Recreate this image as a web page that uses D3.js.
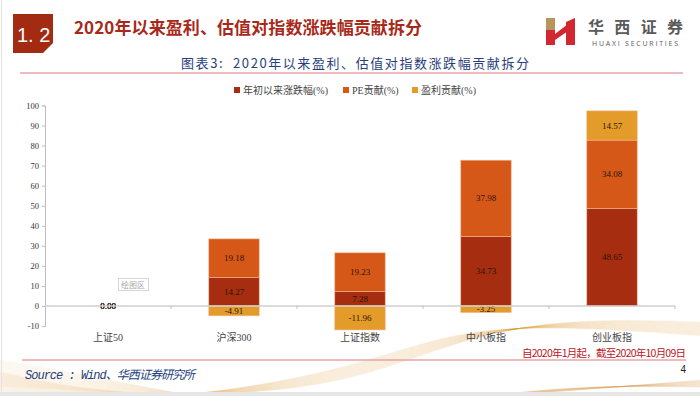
<!DOCTYPE html>
<html>
<head>
<meta charset="utf-8">
<script src="https://cdn.jsdelivr.net/npm/d3@7"></script>
<style>
  body { margin: 0; background: #fff; }
  svg { display: block; }
</style>
</head>
<body>
<script>
// data
var categories = ["上证50", "沪深300", "上证指数", "中小板指", "创业板指"];
var seriesNames = ["年初以来涨跌幅(%)", "PE贡献(%)", "盈利贡献(%)"];
var ytdChange = [0, 14.27, 7.28, 34.73, 48.65];
var peContrib = [0, 19.18, 19.23, 37.98, 34.08];
var epsContrib = [0, -4.91, -11.96, -3.25, 14.57];
var yTicks = [-10, 0, 10, 20, 30, 40, 50, 60, 70, 80, 90, 100];

var colors = ["#A62D10", "#D65818", "#E39B2A"];
var serif = "'Liberation Serif', 'Noto Sans CJK SC', serif";
var cjk = "'Noto Sans CJK SC', sans-serif";

var W = 700, H = 396;
var svg = d3.select("body").append("svg")
    .attr("width", W)
    .attr("height", H);

// ---- background decoration (gold waves at the bottom) ----
var deco = svg.append("g").attr("fill", "none").attr("stroke", "#D8933A");
var wave = d3.line().curve(d3.curveBasis);
for (var i = 0; i < 40; i++) {
  deco.append("path")
      .attr("d", wave([[0, 372 + i * 0.5], [120, 398 + i * 0.2], [330, 392 - i * 0.4], [450, 342 - i * 0.3], [560, 318 + i * 0.2], [700, 322 + i * 0.35]]))
      .attr("stroke-opacity", 0.1)
      .attr("stroke-width", 0.6);
}
for (var i = 0; i < 30; i++) {
  deco.append("path")
      .attr("d", wave([[0, 360 + i * 0.9], [90, 376 + i * 0.5], [200, 398], [260, 404]]))
      .attr("stroke-opacity", 0.1)
      .attr("stroke-width", 0.6);
}
for (var i = 0; i < 25; i++) {
  deco.append("path")
      .attr("d", wave([[470, 398], [580, 390 - i * 0.2], [700, 380 + i * 0.3]]))
      .attr("stroke-opacity", 0.12)
      .attr("stroke-width", 0.6);
}
svg.append("rect").attr("x", 0).attr("y", 392).attr("width", W).attr("height", 4).attr("fill", "#e6e6e6");
svg.append("line").attr("x1", 1.5).attr("x2", 1.5).attr("y1", 0).attr("y2", 392).attr("stroke", "#e2e2e2");

// ---- page header ----
svg.append("path")
    .attr("d", "M13,14H53V43L43,53H13Z")
    .attr("fill", "#A32B12");
svg.append("text")
    .attr("x", 17).attr("y", 42)
    .attr("font-family", "'Liberation Sans', Arial, sans-serif")
    .attr("font-size", 20)
    .attr("fill", "#fff")
    .text("1. 2");

svg.append("text")
    .attr("x", 74).attr("y", 34)
    .attr("font-family", cjk)
    .attr("font-weight", "bold")
    .attr("font-size", 17)
    .attr("fill", "#A8291A")
    .attr("textLength", 348)
    .text("2020年以来盈利、估值对指数涨跌幅贡献拆分");

// logo
var logo = svg.append("g");
logo.append("path").attr("d", "M546,18H555V30H546Z").attr("fill", "#B8955A");
logo.append("path").attr("d", "M546,30H555V45H546Z").attr("fill", "#D22630");
logo.append("path").attr("d", "M555,34L568,24V31L555,40Z").attr("fill", "#D22630");
logo.append("path").attr("d", "M566,22L575,18V45H566Z").attr("fill", "#D22630");
logo.append("text")
    .attr("x", 588).attr("y", 33)
    .attr("font-family", cjk)
    .attr("font-weight", "bold")
    .attr("font-size", 16)
    .attr("fill", "#5a5a5a")
    .attr("textLength", 95)
    .text("华西证券");
logo.append("text")
    .attr("x", 592).attr("y", 46)
    .attr("font-family", "'Open Sans', sans-serif")
    .attr("font-size", 7)
    .attr("fill", "#5a5a5a")
    .attr("textLength", 86)
    .text("HUAXI SECURITIES");

// chart title
svg.append("text")
    .attr("x", 181).attr("y", 68)
    .attr("font-family", cjk)
    .attr("font-size", 13)
    .attr("fill", "#2A3E7C")
    .attr("textLength", 348)
    .style("white-space", "pre")
    .text("图表3:  2020年以来盈利、估值对指数涨跌幅贡献拆分");
svg.append("line")
    .attr("x1", 20).attr("x2", 683)
    .attr("y1", 73).attr("y2", 73)
    .attr("stroke", "#E9A3A9").attr("stroke-width", 1.5);

// ---- chart ----
var xMap = d3.scaleBand().domain(categories).range([45, 675]).paddingInner(0.6).paddingOuter(0.3);
var yMap = d3.scaleLinear().domain([-10, 100]).range([326, 105.5]);

var rows = categories.map(function(c, i) {
  return { cat: c, s0: ytdChange[i], s1: peContrib[i], s2: epsContrib[i] };
});
var stack = d3.stack().keys(["s0", "s1", "s2"]).offset(d3.stackOffsetDiverging);
var layers = stack(rows);

// y axis
var yAxis = d3.axisLeft(yMap).tickValues(yTicks).tickSize(3).tickFormat(function(d) { return String(d); });
var yg = svg.append("g").attr("transform", "translate(45,0)").call(yAxis);
yg.select(".domain").attr("stroke", "#bdbdbd");
yg.selectAll(".tick line").attr("stroke", "#bdbdbd");
yg.selectAll(".tick text")
    .attr("font-family", serif)
    .attr("font-size", 8.5)
    .attr("fill", "#333")
    .attr("x", -6);

// bars
var layer = svg.selectAll(".layer")
    .data(layers)
  .enter().append("g")
    .attr("class", "layer")
    .attr("fill", function(d, i) { return colors[i]; });

layer.selectAll("rect")
    .data(function(d) { return d; })
  .enter().append("rect")
    .attr("x", function(d) { return xMap(d.data.cat); })
    .attr("width", xMap.bandwidth())
    .attr("y", function(d) { return yMap(Math.max(d[0], d[1])); })
    .attr("height", function(d) { return Math.abs(yMap(d[0]) - yMap(d[1])); })
    .attr("stroke", "#F2B48A")
    .attr("stroke-width", 0.6);

// zero line and category ticks
svg.append("line")
    .attr("x1", 45).attr("x2", 675)
    .attr("y1", yMap(0)).attr("y2", yMap(0))
    .attr("stroke", "#cfcfcf").attr("stroke-width", 1.5);
var gap = (xMap.step() - xMap.bandwidth()) / 2;
svg.selectAll(".ctick")
    .data(categories)
  .enter().append("line")
    .attr("class", "ctick")
    .attr("x1", function(d) { return xMap(d) + xMap.bandwidth() + gap; })
    .attr("x2", function(d) { return xMap(d) + xMap.bandwidth() + gap; })
    .attr("y1", yMap(0)).attr("y2", yMap(0) + 3)
    .attr("stroke", "#bdbdbd");

// value labels
layer.selectAll(".val")
    .data(function(d) { return d; })
  .enter().append("text")
    .attr("class", "val")
    .attr("x", function(d) { return xMap(d.data.cat) + xMap.bandwidth() / 2; })
    .attr("y", function(d) { return yMap((d[0] + d[1]) / 2); })
    .attr("dy", "0.35em")
    .attr("text-anchor", "middle")
    .attr("font-family", serif)
    .attr("font-size", 9)
    .attr("fill", "#2a1408")
    .text(function(d) { return d.data[this.parentNode.__data__.key].toFixed(2); });

// category labels
svg.selectAll(".cat")
    .data(categories)
  .enter().append("text")
    .attr("class", "cat")
    .attr("x", function(d) { return xMap(d) + xMap.bandwidth() / 2; })
    .attr("y", 341)
    .attr("text-anchor", "middle")
    .attr("font-family", serif)
    .attr("font-size", 10)
    .attr("fill", "#444")
    .text(function(d) { return d; });

// legend
var legendX = [234, 343, 412];
var legend = svg.selectAll(".legend")
    .data(seriesNames)
  .enter().append("g")
    .attr("class", "legend")
    .attr("transform", function(d, i) { return "translate(" + legendX[i] + ",90)"; });
legend.append("rect")
    .attr("x", 0).attr("y", -3)
    .attr("width", 6).attr("height", 6)
    .attr("fill", function(d, i) { return colors[i]; });
legend.append("text")
    .attr("x", 9).attr("y", 0)
    .attr("dy", "0.35em")
    .attr("font-family", serif)
    .attr("font-size", 10)
    .attr("fill", "#444")
    .text(function(d) { return d; });

// plot-area hover tag left in the screenshot
svg.append("rect")
    .attr("x", 118.5).attr("y", 278.5).attr("width", 30).attr("height", 12)
    .attr("fill", "#fff").attr("stroke", "#d6d6d6");
svg.append("text")
    .attr("x", 133).attr("y", 288)
    .attr("text-anchor", "middle")
    .attr("font-family", cjk)
    .attr("font-size", 8)
    .attr("fill", "#aaa")
    .text("绘图区");

// ---- footer ----
svg.append("text")
    .attr("x", 686).attr("y", 357)
    .attr("text-anchor", "end")
    .attr("font-family", cjk)
    .attr("font-size", 10.5)
    .attr("fill", "#C0141E")
    .attr("textLength", 164)
    .text("自2020年1月起，截至2020年10月09日");
svg.append("line")
    .attr("x1", 22).attr("x2", 686)
    .attr("y1", 360).attr("y2", 360)
    .attr("stroke", "#E9A3A9").attr("stroke-width", 1.5);
svg.append("text")
    .attr("x", 686).attr("y", 373)
    .attr("text-anchor", "end")
    .attr("font-family", "'Liberation Sans', Arial, sans-serif")
    .attr("font-size", 10)
    .attr("fill", "#222")
    .text("4");
svg.append("text")
    .attr("x", 25).attr("y", 379)
    .attr("font-family", "'Liberation Mono', 'Noto Sans CJK SC', monospace")
    .attr("font-style", "italic")
    .attr("font-size", 12)
    .attr("fill", "#24407E")
    .attr("textLength", 170)
    .text("Source : Wind、华西证券研究所");
</script>
</body>
</html>
